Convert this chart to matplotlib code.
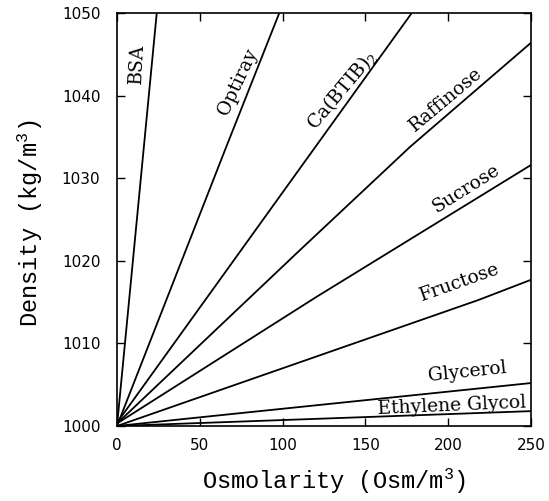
import matplotlib
matplotlib.use("Agg")
import matplotlib.pyplot as plt

# ---- data ----
bsa_x = [0, 24.0]
bsa_y = [1000.0, 1050.0]
optiray_x = [0, 65.2, 98.0]
optiray_y = [1000.0, 1033.4, 1050.0]
cabtib_x = [0, 110.5, 178.0]
cabtib_y = [1000.4, 1031.2, 1050.0]
raffinose_x = [0, 110.5, 177.0, 250]
raffinose_y = [1000.3, 1021.3, 1033.8, 1046.4]
sucrose_x = [0, 120.6, 250]
sucrose_y = [1000.3, 1015.65, 1031.6]
fructose_x = [0, 50.1, 218.2, 250]
fructose_y = [1000.0, 1003.5, 1015.25, 1017.7]
glycerol_x = [0, 50.0, 250]
glycerol_y = [1000.0, 1001.05, 1005.2]
ethylene_x = [0, 250]
ethylene_y = [1000.0, 1001.8]

series_labels = ["BSA", "Optiray", "Ca(BTIB)$\\mathregular{_2}$", "Raffinose",
                 "Sucrose", "Fructose", "Glycerol", "Ethylene Glycol"]
series_x = [bsa_x, optiray_x, cabtib_x, raffinose_x, sucrose_x, fructose_x, glycerol_x, ethylene_x]
series_y = [bsa_y, optiray_y, cabtib_y, raffinose_y, sucrose_y, fructose_y, glycerol_y, ethylene_y]

x_ticks = [0, 50, 100, 150, 200, 250]
y_ticks = [1000, 1010, 1020, 1030, 1040, 1050]
x_label = "Osmolarity (Osm/m$\\mathregular{^3}$)"
y_label = "Density (kg/m$\\mathregular{^3}$)"

# label placement (data coords) and rotation (degrees)
label_pos = [(12.4, 1043.9, 87), (73.0, 1041.7, 65), (135.5, 1040.7, 50),
             (198.6, 1039.5, 40), (210.7, 1028.7, 32), (207.0, 1017.4, 19.5),
             (211.5, 1006.6, 6), (202.1, 1002.5, 2.5)]

fig = plt.figure(figsize=(5.49, 5.01), dpi=100)
ax = fig.add_axes([117 / 549, 1 - 426 / 501, 414 / 549, 413 / 501])

for xs, ys in zip(series_x, series_y):
    ax.plot(xs, ys, color="black", lw=1.3, solid_capstyle="butt")

for name, (lx, ly, rot) in zip(series_labels, label_pos):
    ax.text(lx, ly, name, rotation=rot, rotation_mode="anchor",
            ha="center", va="center", fontsize=13.5, family="DejaVu Serif")

ax.set_xlim(0, 250)
ax.set_ylim(1000, 1050)
ax.set_xticks(x_ticks)
ax.set_yticks(y_ticks)
ax.set_xticklabels([str(v) for v in x_ticks], family="DejaVu Sans", fontsize=11)
ax.set_yticklabels([str(v) for v in y_ticks], family="DejaVu Sans", fontsize=11)
ax.tick_params(direction="in", length=6, width=1, top=True, right=True)
ax.tick_params(axis="x", pad=9)
ax.tick_params(axis="y", pad=12)
for s in ax.spines.values():
    s.set_linewidth(1.2)

ax.set_xlabel(x_label, family="Liberation Mono", fontsize=17)
ax.set_ylabel(y_label, family="Liberation Mono", fontsize=17)
ax.xaxis.set_label_coords(0.525, -0.135)
ax.xaxis.label.set_va("center")
ax.yaxis.set_label_coords(-0.21, 0.49)
ax.yaxis.label.set_va("center")

fig.savefig("out.png", dpi=100)
